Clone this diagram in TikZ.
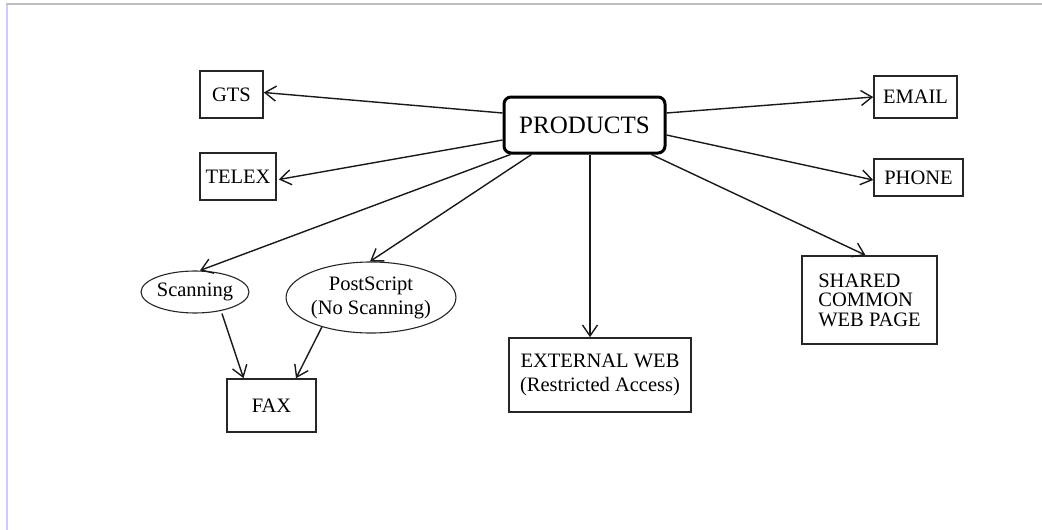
\documentclass[tikz,border=0pt]{standalone}
\usepackage{fontspec}
\setmainfont{Liberation Serif}
\usetikzlibrary{arrows.meta,shapes.geometric,calc}
\begin{document}
\begin{tikzpicture}[x=1pt,y=-1pt,
  lbl/.style={font=\fontsize{20.5}{24}\selectfont},
  box/.style={lbl,draw=black!85,line width=1.6pt,fill=white,inner sep=0pt,align=center},
  oval/.style={lbl,ellipse,draw=black!85,line width=1.1pt,inner sep=0pt,align=center},
  hub/.style={draw=black,line width=3pt,rounded corners=7pt,fill=white,inner sep=0pt,
    font=\fontsize{25}{28}\selectfont},
  link/.style={draw=black!90,line width=1.4pt,
    -{Straight Barb[length=11pt,width=15pt,line width=1.4pt]}}
]
\useasboundingbox (0,0) rectangle (1042,530);
% frame lines
\draw[draw=black!25,line width=2pt] (6,4) -- (1042,4);
\draw[draw=blue!20,line width=2pt] (7,5) -- (7,530);

% nodes
\node[hub,minimum width=161pt,minimum height=56pt] (prod) at (584.5,125) {PRODUCTS};
\node[box,minimum width=63pt,minimum height=47pt] (gts) at (231.5,94.5) {GTS};
\node[box,minimum width=76pt,minimum height=47pt] (telex) at (238,176.5) {TELEX};
\node[box,minimum width=83pt,minimum height=42pt] (email) at (915.5,97) {EMAIL};
\node[box,minimum width=89pt,minimum height=37pt] (phone) at (918.5,177.5) {PHONE};
\node[box,minimum width=135pt,minimum height=88pt,align=left,
  font=\fontsize{20.5}{19.5}\selectfont] (shared) at (869.5,300) {SHARED\\COMMON\\WEB PAGE};
\node[oval,minimum width=104pt,minimum height=42pt] (scan) at (195,292) {Scanning};
\node[oval,minimum width=166pt,minimum height=71pt] (ps) at (371,297.5) {PostScript\\(No Scanning)};
\node[box,minimum width=89pt,minimum height=53pt] (fax) at (271.5,405.5) {FAX};
\node[box,minimum width=182pt,minimum height=74pt] (ext) at (600,375) {EXTERNAL WEB\\(Restricted Access)};

% connectors
\draw[link] ([yshift=12pt]prod.west) -- ([yshift=2pt]gts.east);
\draw[link] ([yshift=-15pt]prod.west) -- ([xshift=2pt,yshift=-3pt]telex.east);
\draw[link] ([yshift=12pt]prod.east) -- (email.west);
\draw[link] ([yshift=-10pt]prod.east) -- ([yshift=-2.5pt]phone.west);
\draw[link] ([xshift=8pt]prod.south west) -- ([xshift=5pt]scan.north);
\draw[link] ([xshift=29pt]prod.south west) -- ([xshift=-1pt]ps.north);
\draw[link] ([xshift=5.5pt]prod.south) -- ([xshift=5.5pt]prod.south |- ext.north);
\draw[link] ([xshift=-15pt]prod.south east) -- ([xshift=-4pt]shared.north);
\draw[link] ([xshift=27pt]scan.south) -- ([xshift=-28pt]fax.north);
\draw[link] (ps.211) -- ([xshift=24.5pt]fax.north);
\end{tikzpicture}
\end{document}
